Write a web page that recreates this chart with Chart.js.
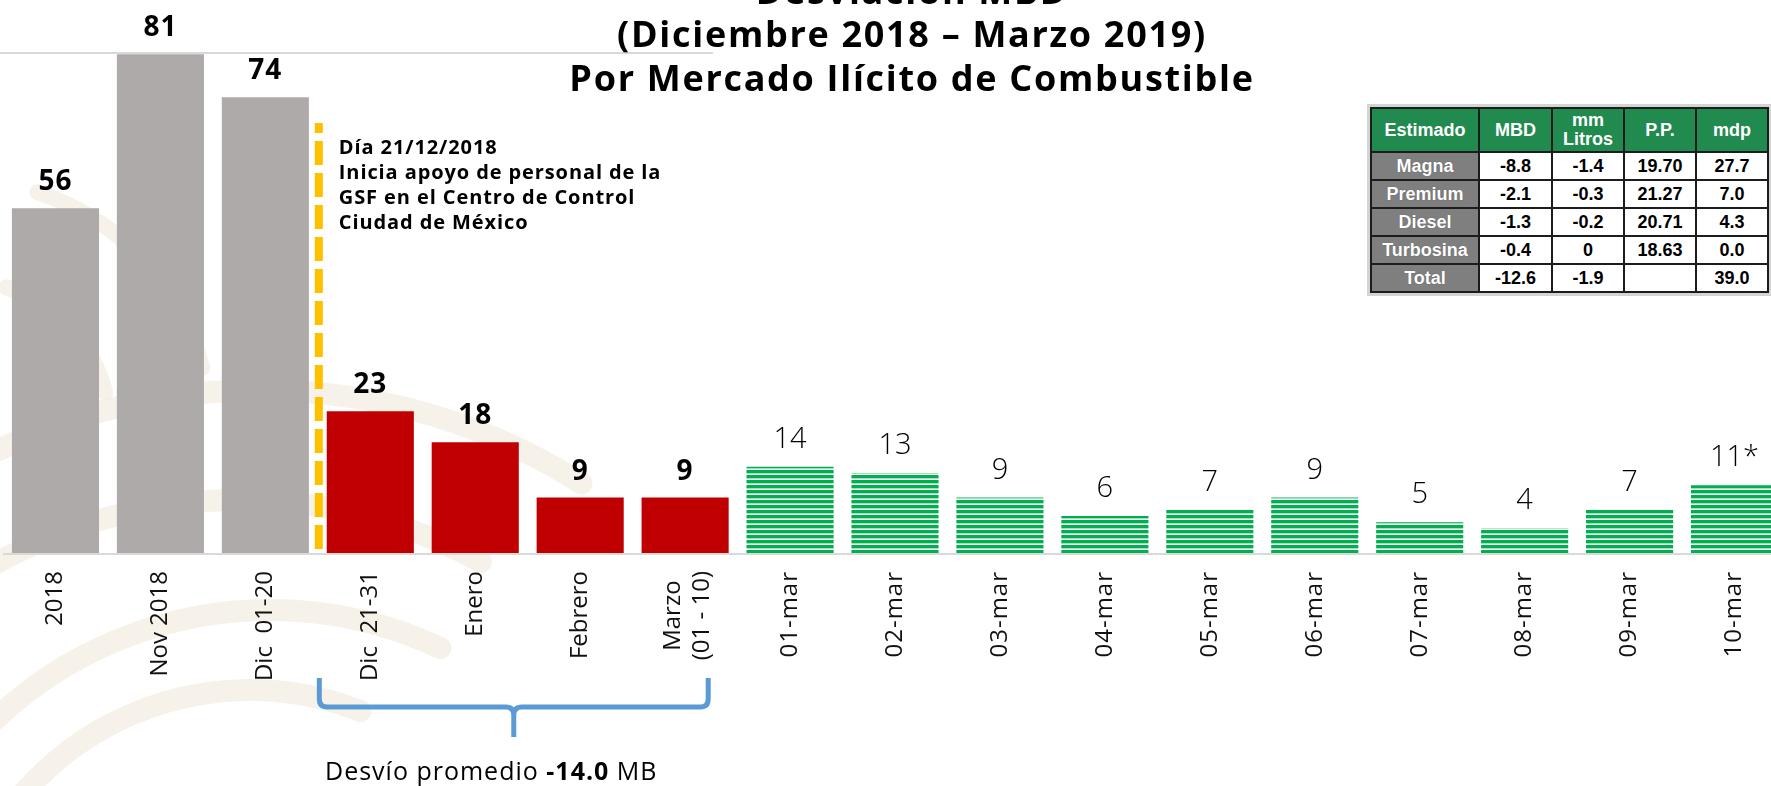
<!DOCTYPE html>
<html>
<head>
<meta charset="utf-8">
<title>Desviación MBD</title>
<script src="https://cdn.jsdelivr.net/npm/chart.js@4/dist/chart.umd.min.js"></script>
<style>
html, body { margin: 0; padding: 0; width: 1771px; height: 786px; overflow: hidden; background: #fff; }
#wrap { position: absolute; left: 0; top: 0; width: 1790px; height: 786px; }
#tabla {
    position: absolute; left: 1370px; top: 107px;
    border-collapse: collapse;
    font-family: "Liberation Sans", Arial, sans-serif; font-weight: bold; font-size: 18px;
    outline: 3px solid #d4d4d4; outline-offset: 0px;
    background: #fff;
}
#tabla td, #tabla th { border: 2px solid #1c1c1c; text-align: center; padding: 0; height: 26px; }
#tabla th { background: #218a4f; color: #fff; height: 42px; line-height: 19px; font-weight: bold; }
#tabla td.fila { background: #7f7f7f; color: #fff; text-shadow: 0 0 1px #555; }
#tabla td { color: #000; }
</style>
</head>
<body>
<div id="wrap"><canvas id="chart" width="1790" height="786"></canvas></div>
<table id="tabla"></table>
<script>
// categorias y valores (MBD)
var categorias = ["2018", "Nov 2018", "Dic  01-20", "Dic  21-31", "Enero", "Febrero", ["Marzo", "(01 - 10)"],
    "01-mar", "02-mar", "03-mar", "04-mar", "05-mar", "06-mar", "07-mar", "08-mar", "09-mar", "10-mar"];
var valores = [56, 81, 74, 23, 18, 9, 9, 14, 13, 9, 6, 7, 9, 5, 4, 7, 11];
var etiquetas = ["56", "81", "74", "23", "18", "9", "9", "14", "13", "9", "6", "7", "9", "5", "4", "7", "11*"];
var grupos = ["antes", "antes", "antes", "gsf", "gsf", "gsf", "gsf",
    "dia", "dia", "dia", "dia", "dia", "dia", "dia", "dia", "dia", "dia"];

// tabla estimado
var tablaCols = ["Estimado", "MBD", "mm<br>Litros", "P.P.", "mdp"];
var tablaFilas = ["Magna", "Premium", "Diesel", "Turbosina", "Total"];
var tablaMBD = ["-8.8", "-2.1", "-1.3", "-0.4", "-12.6"];
var tablaLitros = ["-1.4", "-0.3", "-0.2", "0", "-1.9"];
var tablaPP = ["19.70", "21.27", "20.71", "18.63", ""];
var tablaMdp = ["27.7", "7.0", "4.3", "0.0", "39.0"];

var anchos = [106, 71, 70, 70, 70];
var html = "<tr>";
tablaCols.forEach(function (c, i) { html += "<th style='width:" + anchos[i] + "px'>" + c + "</th>"; });
html += "</tr>";
tablaFilas.forEach(function (f, i) {
    html += "<tr><td class='fila'>" + f + "</td><td>" + tablaMBD[i] + "</td><td>" + tablaLitros[i] +
        "</td><td>" + tablaPP[i] + "</td><td>" + tablaMdp[i] + "</td></tr>";
});
document.getElementById("tabla").innerHTML = html;

// patron rayado verde
var pc = document.createElement("canvas");
pc.width = 4; pc.height = 5;
var pctx = pc.getContext("2d");
pctx.fillStyle = "#ffffff"; pctx.fillRect(0, 0, 4, 5);
pctx.fillStyle = "#00b050"; pctx.fillRect(0, 0, 4, 3);
pctx.fillStyle = "#9fe0b9"; pctx.fillRect(0, 3, 4, 1);
var rayado = pctx.createPattern(pc, "repeat");

var colores = grupos.map(function (g) {
    if (g == "antes") return "#aeaaaa";
    if (g == "gsf") return "#c00000";
    return rayado;
});

var FONT = "'Open Sans', 'Noto Sans', sans-serif";

var extras = {
    id: "extras",
    beforeDraw: function (chart) {
        var ctx = chart.ctx;
        ctx.save();
        ctx.fillStyle = "#fff";
        ctx.fillRect(0, 0, chart.width, chart.height);
        // marca de agua
        ctx.beginPath();
        ctx.rect(0, 60, 700, 726);
        ctx.clip();
        ctx.strokeStyle = "rgba(240,234,220,0.6)";
        ctx.lineCap = "round";
        ctx.lineWidth = 22;
        [[260, 1000, 200], [250, 990, 300], [270, 1010, 400], [240, 1000, 500], [260, 990, 600]].forEach(function (a, k) {
            ctx.beginPath();
            ctx.arc(a[0], a[1], a[2], Math.PI * (1.08 + k * 0.03), Math.PI * (1.6 + k * 0.02));
            ctx.stroke();
        });
        ctx.lineWidth = 16;
        [150, 250].forEach(function (r) {
            ctx.beginPath();
            ctx.arc(-40, 430, r, Math.PI * 1.6, Math.PI * 1.92);
            ctx.stroke();
        });
        ctx.restore();
    },
    afterDatasetsDraw: function (chart) {
        var ctx = chart.ctx;
        var x = chart.scales.x;
        var base = chart.scales.y.getPixelForValue(0);
        var meta = chart.getDatasetMeta(0);
        ctx.save();

        // eje
        ctx.strokeStyle = "#d9d9d9";
        ctx.lineWidth = 2;
        ctx.beginPath();
        ctx.moveTo(3, base + 1);
        ctx.lineTo(chart.width, base + 1);
        ctx.stroke();

        // linea gris superior
        ctx.beginPath();
        ctx.moveTo(0, 53);
        ctx.lineTo(713, 53);
        ctx.stroke();

        // valores
        ctx.textAlign = "center";
        ctx.textBaseline = "alphabetic";
        ctx.fillStyle = "#000";
        meta.data.forEach(function (bar, i) {
            if (grupos[i] == "dia") {
                ctx.font = "300 29px " + FONT;
                ctx.fillText(etiquetas[i], bar.x, bar.y - 19);
            } else {
                ctx.font = "bold 28px " + FONT;
                ctx.letterSpacing = "1px";
                ctx.fillText(etiquetas[i], bar.x, bar.y - 18);
                ctx.letterSpacing = "0px";
            }
        });

        // etiquetas del eje x, verticales
        ctx.font = "24px " + FONT;
        ctx.fillStyle = "#111";
        categorias.forEach(function (c, i) {
            var lineas = Array.isArray(c) ? c : [c];
            var maxW = 0;
            ctx.letterSpacing = grupos[i] == "dia" ? "1px" : "0px";
            lineas.forEach(function (l) { maxW = Math.max(maxW, ctx.measureText(l).width); });
            var cx = x.getPixelForValue(i);
            lineas.forEach(function (l, k) {
                var dx = (k - (lineas.length - 1) / 2) * 29 + (lineas.length > 1 ? 3 : 0);
                ctx.save();
                ctx.translate(cx + dx, base + 18 + maxW / 2);
                ctx.rotate(-Math.PI / 2);
                ctx.textAlign = "center";
                ctx.textBaseline = "middle";
                ctx.fillText(l, 0, 0);
                ctx.restore();
            });
        });
        ctx.letterSpacing = "0px";

        // linea amarilla punteada
        var xl = x.getPixelForValue(2.5) + 1;
        ctx.strokeStyle = "#ffc000";
        ctx.lineWidth = 8;
        ctx.setLineDash([24, 8]);
        ctx.lineDashOffset = 14;
        ctx.beginPath();
        ctx.moveTo(xl, 123);
        ctx.lineTo(xl, base);
        ctx.stroke();
        ctx.setLineDash([]);

        // nota
        ctx.fillStyle = "#000";
        ctx.textAlign = "left";
        ctx.font = "bold 20px " + FONT;
        ctx.letterSpacing = "0.9px";
        ["Día 21/12/2018", "Inicia apoyo de personal de la", "GSF en el Centro de Control", "Ciudad de México"]
            .forEach(function (t, k) { ctx.fillText(t, xl + 20, 154 + k * 25); });
        ctx.letterSpacing = "0px";

        // llave azul
        var L = x.getPixelForValue(2.5) + 1.5;
        var R = x.getPixelForValue(6.22);
        var C = (L + R) / 2;
        var hy = 707, r = 8;
        ctx.strokeStyle = "#5b9bd5";
        ctx.lineWidth = 5;
        ctx.lineJoin = "round";
        ctx.beginPath();
        ctx.moveTo(L, 678);
        ctx.lineTo(L, hy - r);
        ctx.quadraticCurveTo(L, hy, L + r, hy);
        ctx.lineTo(C - r, hy);
        ctx.quadraticCurveTo(C, hy, C, hy + r);
        ctx.lineTo(C, 737);
        ctx.moveTo(C, hy + r);
        ctx.quadraticCurveTo(C, hy, C + r, hy);
        ctx.lineTo(R - r, hy);
        ctx.quadraticCurveTo(R, hy, R, hy - r);
        ctx.lineTo(R, 678);
        ctx.stroke();

        // desvio promedio
        var tx = 325, ty = 780;
        ctx.letterSpacing = "1px";
        var partes = [["Desvío promedio ", "25px "], ["-14.0", "bold 25px "], [" MB", "25px "]];
        partes.forEach(function (p) {
            ctx.font = p[1] + FONT;
            ctx.fillText(p[0], tx, ty);
            tx += ctx.measureText(p[0]).width;
        });

        // titulo
        ctx.textAlign = "center";
        ctx.font = "bold 36px " + FONT;
        ctx.letterSpacing = "1.7px";
        ctx.fillText("Desviación MBD", 912, 4);
        ctx.fillText("(Diciembre 2018 – Marzo 2019)", 912, 47);
        ctx.fillText("Por Mercado Ilícito de Combustible", 912, 91);
        ctx.letterSpacing = "0px";

        ctx.restore();
    }
};

var chart = new Chart(document.getElementById("chart"), {
    type: "bar",
    data: {
        labels: categorias,
        datasets: [{
            data: valores,
            backgroundColor: colores,
            borderWidth: 0,
            barPercentage: 0.83,
            categoryPercentage: 1.0
        }]
    },
    options: {
        responsive: false,
        animation: false,
        layout: { padding: { left: 3, right: 3, top: 0, bottom: 233 } },
        plugins: { legend: { display: false }, tooltip: { enabled: false }, title: { display: false } },
        scales: {
            x: { display: false },
            y: { display: false, min: 0, max: 89.8 }
        }
    },
    plugins: [extras]
});
</script>
</body>
</html>
